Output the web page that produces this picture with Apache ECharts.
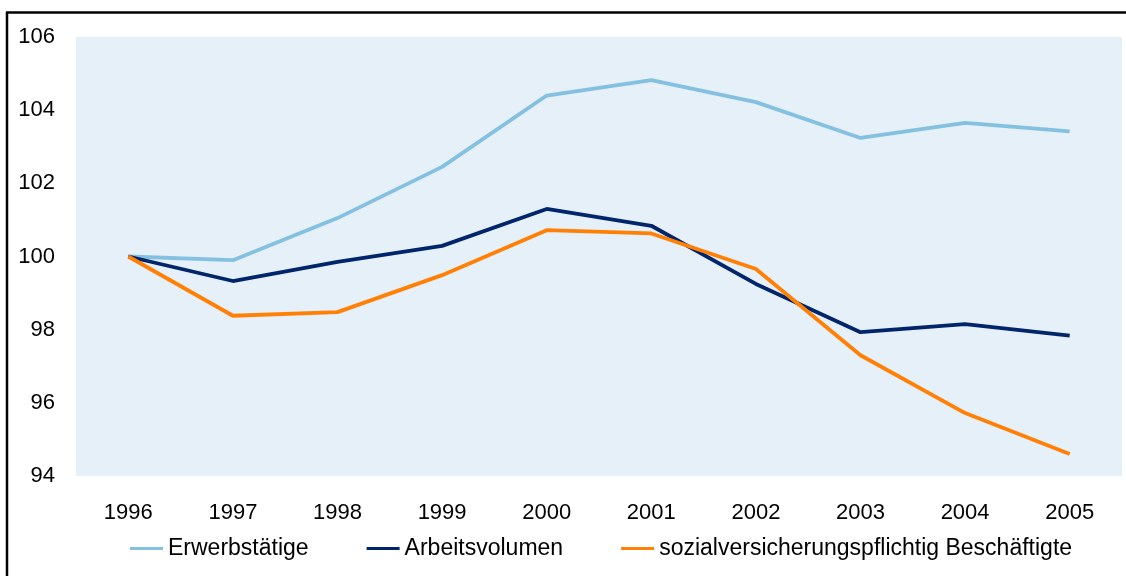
<!DOCTYPE html>
<html>
<head>
<meta charset="utf-8">
<script src="https://cdn.jsdelivr.net/npm/echarts@6/dist/echarts.min.js"></script>
<style>
  html, body { margin: 0; padding: 0; background: #fff; }
  #main { width: 1126px; height: 576px; }
</style>
</head>
<body>
<div id="main"></div>
<script>
// index values, 1996 = 100
var years = ['1996', '1997', '1998', '1999', '2000', '2001', '2002', '2003', '2004', '2005'];
var erwerbstaetige = [100, 99.9, 101.05, 102.45, 104.4, 104.82, 104.22, 103.24, 103.65, 103.42];
var arbeitsvolumen = [100, 99.33, 99.85, 100.29, 101.3, 100.84, 99.25, 97.93, 98.15, 97.84];
var sozialversichert = [100, 98.38, 98.48, 99.49, 100.72, 100.63, 99.66, 97.3, 95.72, 94.6];

var myChart = echarts.init(document.getElementById('main'));

var font = 'Arial, "Liberation Sans", sans-serif';

option = {
    backgroundColor: '#fff',
    animation: false,
    textStyle: {fontFamily: font},
    graphic: [
        // outer frame (left and top edges only visible)
        {type: 'line', shape: {x1: 7, y1: 12, x2: 7, y2: 576}, style: {stroke: '#000', lineWidth: 2.5}},
        {type: 'line', shape: {x1: 6, y1: 12.5, x2: 1126, y2: 12.5}, style: {stroke: '#000', lineWidth: 2.5}}
    ],
    grid: {
        left: 76,
        right: 4,
        top: 37,
        bottom: 100,
        show: true,
        backgroundColor: '#e6f0f8',
        borderWidth: 0
    },
    legend: {
        left: 125,
        top: 532,
        icon: 'rect',
        itemWidth: 33,
        itemHeight: 3,
        itemGap: 58,
        textStyle: {fontFamily: font, fontSize: 23, color: '#000'},
        data: ['Erwerbstätige', 'Arbeitsvolumen', 'sozialversicherungspflichtig Beschäftigte']
    },
    xAxis: {
        type: 'category',
        data: years,
        boundaryGap: true,
        axisLine: {show: false},
        axisTick: {show: false},
        axisLabel: {color: '#000', fontSize: 22, fontFamily: font, margin: 26}
    },
    yAxis: {
        type: 'value',
        min: 94,
        max: 106,
        interval: 2,
        axisLine: {show: false},
        axisTick: {show: false},
        splitLine: {show: false},
        axisLabel: {color: '#000', fontSize: 22, fontFamily: font, margin: 21}
    },
    series: [
        {
            name: 'Erwerbstätige',
            type: 'line',
            data: erwerbstaetige,
            symbol: 'none',
            color: '#84c1e0',
            lineStyle: {width: 3.8, color: '#84c1e0'}
        },
        {
            name: 'Arbeitsvolumen',
            type: 'line',
            data: arbeitsvolumen,
            symbol: 'none',
            color: '#00256a',
            lineStyle: {width: 3.8, color: '#00256a'}
        },
        {
            name: 'sozialversicherungspflichtig Beschäftigte',
            type: 'line',
            data: sozialversichert,
            symbol: 'none',
            color: '#ff8005',
            lineStyle: {width: 3.8, color: '#ff8005'}
        }
    ]
};

myChart.setOption(option);
</script>
</body>
</html>
